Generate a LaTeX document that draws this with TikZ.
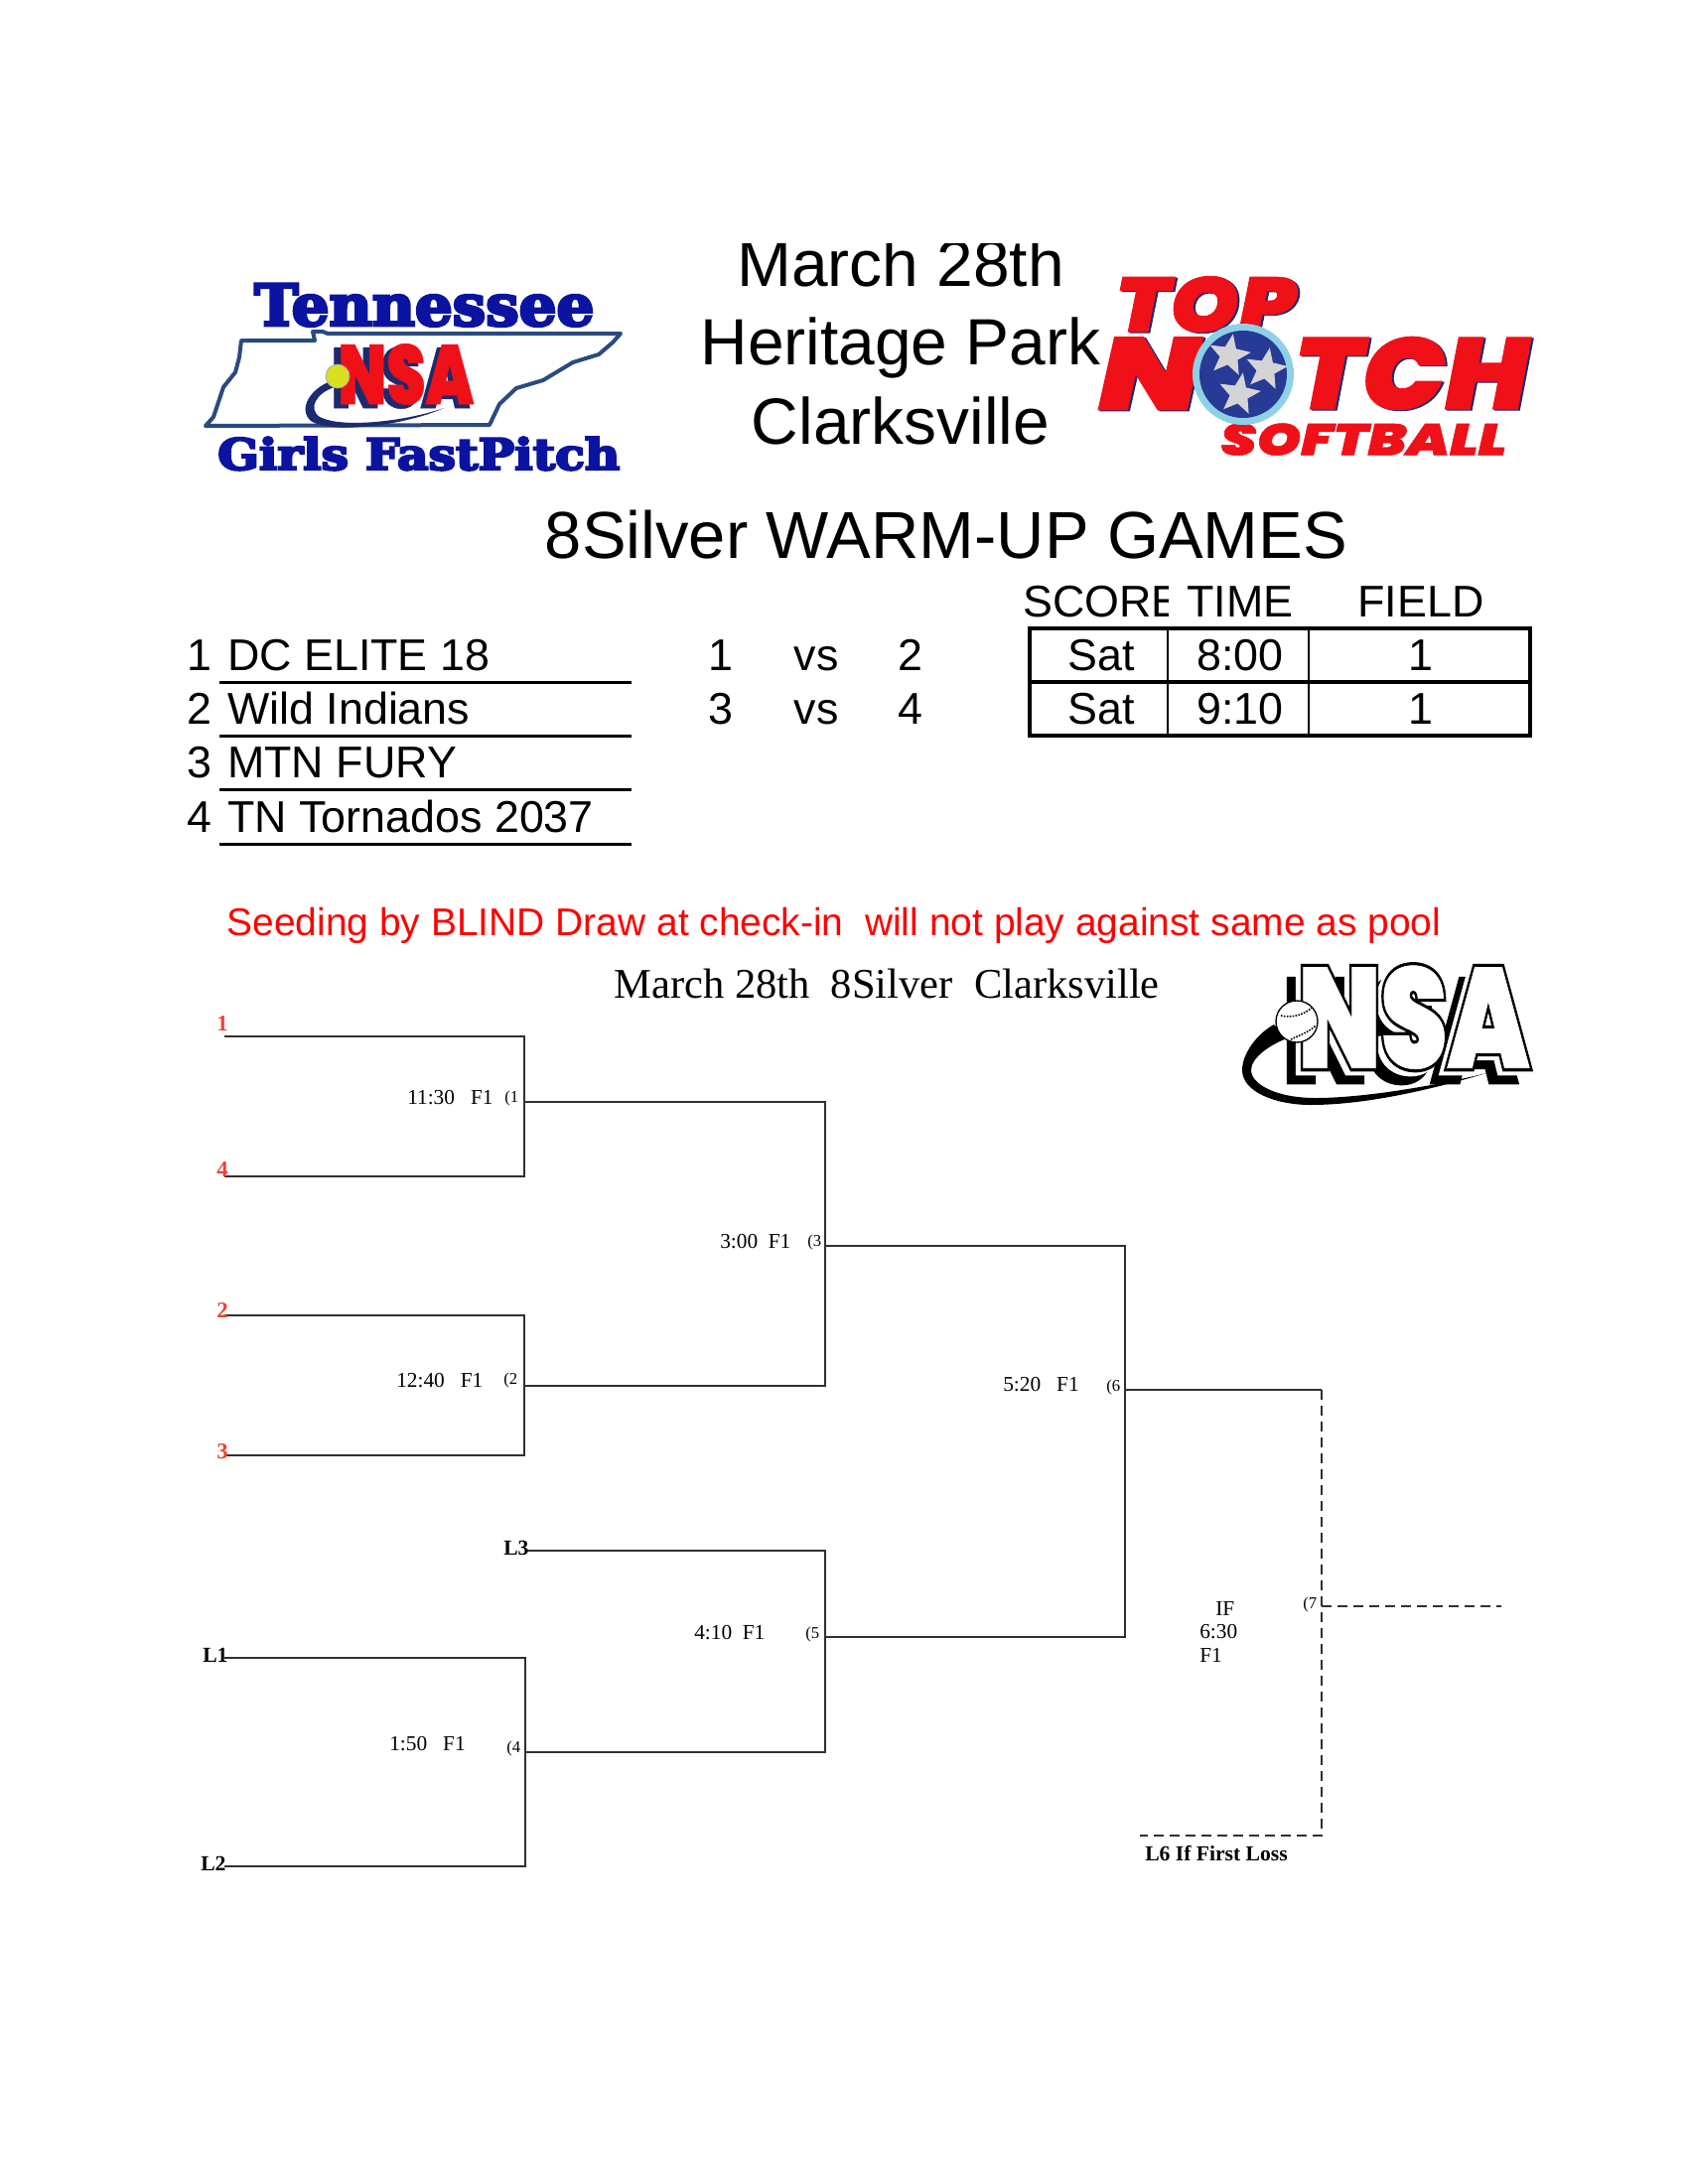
\documentclass[tikz,border=0pt]{standalone}
\usepackage{fontspec}
\usepackage{graphicx}
\setmainfont{Liberation Sans}
\newfontfamily\serifb{Liberation Serif}
\newfontfamily\slabfont[FakeBold=5]{DejaVu Serif Bold}
\newfontfamily\heavyit[FakeBold=1]{Poppins Black Italic}
\newfontfamily\heavynsa[FakeBold=0.5]{Poppins Black}
\newfontfamily\heavyline[FakeBold=5]{Poppins Black}
\usetikzlibrary{shapes.geometric}
\definecolor{tnblue}{HTML}{0B14A0}
\definecolor{tnline}{HTML}{2A4A80}
\definecolor{tnred}{HTML}{F01018}
\definecolor{tnnavy}{HTML}{1C2A70}
\definecolor{seedred}{HTML}{FF0000}
\definecolor{numred}{HTML}{F04030}
\definecolor{brline}{HTML}{303030}
\definecolor{ringblue}{HTML}{8FD0E6}
\definecolor{discblue}{HTML}{263A96}
\definecolor{stargray}{HTML}{D4D4D4}
\definecolor{bally}{HTML}{D8E020}
\tikzset{
 x=0.75pt,y=-0.75pt,
 big/.style={inner sep=0,font=\fontsize{33.6}{33.6}\selectfont,anchor=base},
 lft/.style={big,anchor=base west},
 head/.style={inner sep=0,font=\fontsize{49.4}{49.4}\selectfont,anchor=base},
 rule/.style={line width=2.1pt,black},
 tabline/.style={line width=2.5pt,black},
 br/.style={line width=1.15pt,brline},
 brd/.style={br,dash pattern=on 7.5pt off 4.5pt},
 sm/.style={inner sep=0,font=\serifb\fontsize{16}{16}\selectfont,anchor=base west},
 smb/.style={inner sep=0,font=\serifb\bfseries\fontsize{16.2}{16.2}\selectfont,anchor=base west},
 gnum/.style={inner sep=0,font=\serifb\fontsize{12.5}{12.5}\selectfont,anchor=base west},
 seed/.style={inner sep=0,font=\serifb\bfseries\fontsize{17}{17}\selectfont,anchor=base,text=numred},
 logo/.style={inner sep=0,anchor=south west},
 wstar/.style={star,star points=5,star point ratio=2.3,minimum size=33pt,inner sep=0,fill=stargray,rotate=-10},
}
\newcommand{\fit}[3]{\resizebox{#1\dimexpr0.75pt\relax}{#2\dimexpr0.75pt\relax}{#3}}
\begin{document}
\begin{tikzpicture}
\useasboundingbox (0,0) rectangle (1700,2200);
\fill[white] (0,0) rectangle (1700,2200);

% ---- Tennessee NSA logo
\node[logo,text=tnblue] (tnA) at (256,329) {\fit{342}{42}{\slabfont Tennessee}};
\node[logo,text=tnblue] (tnB) at (219,474) {\fit{405}{33}{\slabfont Girls FastPitch}};
\draw[tnline,line width=3pt,line join=round,fill=white]
 (207,429)--(215,420)--(220,405)--(225,390)--(237,375)--(241,360)--(243,343)--(317,343)--(315,334)--(325,334)--(330,336)--(625,336)--(617,345)--(603,357)--(577,365)--(547,383)--(520,391)--(503,407)--(493,428)--cycle;
\node[logo,text=tnnavy] (tnC) at (333,412) {\fit{140}{62}{\heavynsa NSA}};
\node[logo,text=tnred] (tnD) at (340,408) {\fit{137}{61}{\heavynsa NSA}};
\fill[tnnavy] (333,384) .. controls (312,392) and (300,412) .. (313,424) .. controls (335,438) and (410,428) .. (447,411) .. controls (410,424) and (345,432) .. (322,420) .. controls (310,412) and (318,396) .. (337,390) -- cycle;
\filldraw[fill=bally,draw=tnnavy!40,line width=0.6pt] (340,379) circle (12);

% ---- Top Notch logo
\node[logo,text=tnnavy] (tpA) at (1125,336) {\fit{182}{56}{\heavyit TOP}};
\node[logo,text=tnred] (tpB) at (1123,335) {\fit{182}{56}{\heavyit TOP}};
\node[logo,text=tnnavy] (tpC) at (1108,414) {\fit{102}{73}{\heavyit N}};
\node[logo,text=tnred] (tpD) at (1106,413) {\fit{102}{73}{\heavyit N}};
\node[logo,text=tnnavy] (tpE) at (1305,414) {\fit{236}{73}{\heavyit TCH}};
\node[logo,text=tnred] (tpF) at (1303,413) {\fit{236}{73}{\heavyit TCH}};
\node[logo,text=tnred] (tpG) at (1229,459) {\fit{288}{32}{\heavyit SOFTBALL}};
\fill[ringblue] (1252,377) circle (51);
\fill[discblue] (1252,377) circle (44);
\node[wstar] (s1) at (1238,358) {};
\node[wstar] (s2) at (1275,372) {};
\node[wstar] (s3) at (1248,397) {};

% ---- Header
\begin{scope}
\clip (600,245) rectangle (1100,500);
\node[head] (h1) at (907,288) {March 28th};
\end{scope}
\node[head] (h2) at (907,367) {Heritage Park};
\node[head] (h3) at (907,447) {Clarksville};
\node[inner sep=0,font=\fontsize{50.2}{50.2}\selectfont,anchor=base] (title) at (953,562) {8Silver WARM-UP GAMES};

% ---- Column heads
\begin{scope}
\clip (1000,570) rectangle (1176,640);
\node[big,anchor=base west] (c1) at (1030,621) {SCORE};
\end{scope}
\node[big] (c2) at (1249,621) {TIME};
\node[big] (c3) at (1431,621) {FIELD};

% ---- Teams
\foreach \i/\t/\y in {1/DC ELITE 18/675,2/Wild Indians/729,3/MTN FURY/783,4/TN Tornados 2037/838}{
 \node[big] (n\i) at (201,\y) {\i};
 \node[lft] (t\i) at (229,\y) {\t};
 \coordinate (ra\i) at (221,\y+12.5);
 \coordinate (rb\i) at (636,\y+12.5);
 \draw[rule] (ra\i)--(rb\i);
}
% ---- Matches
\node[big] (m1) at (726,675) {1};
\node[big] (v1) at (822,675) {vs};
\node[big] (o1) at (917,675) {2};
\node[big] (m2) at (726,729) {3};
\node[big] (v2) at (822,729) {vs};
\node[big] (o2) at (917,729) {4};
% ---- Table
\draw[tabline] (1037,633) rectangle (1541,741);
\draw[tabline] (1037,687)--(1541,687);
\draw[line width=2pt] (1176,633)--(1176,741) (1318,633)--(1318,741);
\node[big] (a1) at (1109,675) {Sat};
\node[big] (a2) at (1249,675) {8:00};
\node[big] (a3) at (1431,675) {1};
\node[big] (b1) at (1109,729) {Sat};
\node[big] (b2) at (1249,729) {9:10};
\node[big] (b3) at (1431,729) {1};

% ---- Seeding note and bracket title
\node[inner sep=0,font=\fontsize{29.2}{29.2}\selectfont,text=seedred,anchor=base] (note) at (840,942) {Seeding by BLIND Draw at check-in\ \ will not play against same as pool};
\node[inner sep=0,font=\serifb\fontsize{31.9}{31.9}\selectfont,anchor=base] (bt) at (893,1005) {March 28th\ \ 8Silver\ \ Clarksville};

% ---- NSA logo
\fill[black] (1283,1032) .. controls (1265,1042) and (1251,1062) .. (1251,1078) .. controls (1251,1100) and (1285,1113) .. (1320,1113) .. controls (1380,1113) and (1450,1095) .. (1497,1081) .. controls (1440,1095) and (1370,1106) .. (1325,1106) .. controls (1285,1106) and (1260,1092) .. (1260,1078) .. controls (1260,1065) and (1280,1052) .. (1296,1046) -- cycle;
\node[logo,text=black] (nsa) at (1293,1090) {\fit{233}{103}{\heavyline NSA}};
\node[logo,text=white] (nsb) at (1302,1081) {\fit{233}{103}{\heavyline NSA}};
\node[logo,text=black] (nsc) at (1307,1077) {\fit{233}{103}{\heavyline NSA}};
\node[logo,text=white] (nsd) at (1307,1077) {\fit{233}{103}{\heavynsa NSA}};
\filldraw[fill=white,draw=black,line width=1pt] (1306,1029) circle (21);
\draw[line width=1.2pt,densely dotted] (1290,1023) .. controls (1300,1026) and (1315,1022) .. (1322,1014);
\draw[line width=1.2pt,densely dotted] (1300,1047) .. controls (1308,1043) and (1318,1040) .. (1325,1033);

% ---- Bracket
\coordinate (p1) at (226,1044); \coordinate (p4) at (226,1185);
\coordinate (g1) at (528,1110);
\coordinate (p2) at (226,1325); \coordinate (p3) at (226,1466);
\coordinate (g2) at (528,1396);
\coordinate (g3) at (831,1255);
\coordinate (l3) at (530,1562);
\coordinate (l1) at (226,1670); \coordinate (l2) at (226,1880);
\coordinate (g4) at (529,1765);
\coordinate (g5) at (831,1649);
\coordinate (g6) at (1133,1400);
\coordinate (ct) at (1331,1400);
\coordinate (cb) at (1331,1849);
\coordinate (g7) at (1331,1618);
\coordinate (fin) at (1512,1618);
\coordinate (l6) at (1148,1849);
\draw[br] (p1) -| (g1); \draw[br] (p4) -| (g1);
\draw[br] (p2) -| (g2); \draw[br] (p3) -| (g2);
\draw[br] (g1) -| (g3); \draw[br] (g2) -| (g3);
\draw[br] (l3) -| (g5); \draw[br] (g4) -| (g5);
\draw[br] (l1) -| (g4); \draw[br] (l2) -| (g4);
\draw[br] (g3) -| (g6); \draw[br] (g5) -| (g6);
\draw[br] (g6) -- (ct);
\draw[brd] (ct) -- (cb) -- (l6);
\draw[brd] (g7) -- (fin);

\node[seed] (sa) at (224,1038) {1};
\node[seed] (sb) at (224,1185) {4};
\node[seed] (sc) at (224,1327) {2};
\node[seed] (sd) at (224,1469) {3};
\node[smb] (la) at (507,1566) {L3};
\node[smb] (lb) at (204,1674) {L1};
\node[smb] (lc) at (202,1884) {L2};
\node[smb] (ld) at (1153,1874) {L6 If First Loss};
\node[sm] (x1) at (410,1112) {11:30\ \ \ F1};
\node[gnum] (x1b) at (508,1110) {(1};
\node[sm] (x2) at (399,1397) {12:40\ \ \ F1};
\node[gnum] (x2b) at (507,1394) {(2};
\node[sm] (x3) at (725,1257) {3:00\ \ F1};
\node[gnum] (x3b) at (813,1255) {(3};
\node[sm] (x4) at (392,1763) {1:50\ \ \ F1};
\node[gnum] (x4b) at (510,1765) {(4};
\node[sm] (x5) at (699,1651) {4:10\ \ F1};
\node[gnum] (x5b) at (811,1650) {(5};
\node[sm] (x6) at (1010,1401) {5:20\ \ \ F1};
\node[gnum] (x6b) at (1114,1401) {(6};
\node[sm] (x7) at (1224,1627) {IF};
\node[sm] (x7a) at (1208,1650) {6:30};
\node[sm] (x7c) at (1208,1674) {F1};
\node[gnum] (x7b) at (1312,1620) {(7};
\end{tikzpicture}
\end{document}
